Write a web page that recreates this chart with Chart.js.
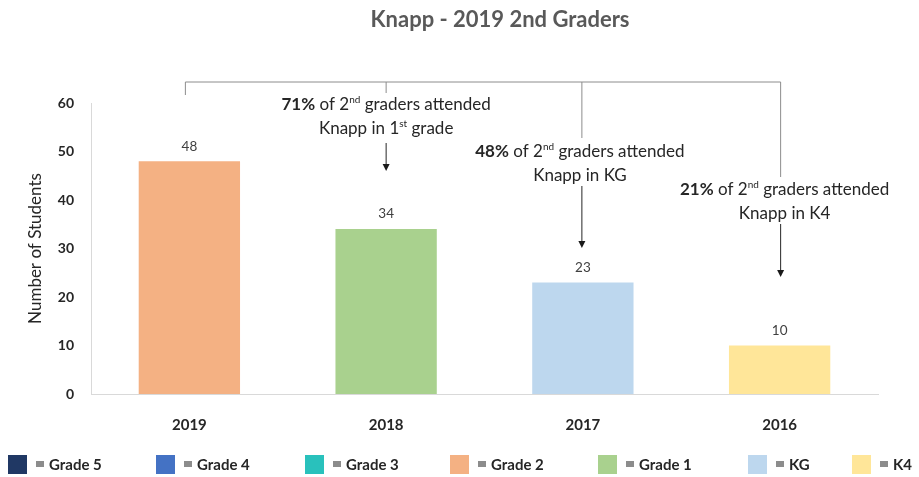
<!DOCTYPE html>
<html><head><meta charset="utf-8">
<script src="https://cdn.jsdelivr.net/npm/chart.js@4.4.0/dist/chart.umd.min.js"></script>
<style>html,body{margin:0;padding:0;background:#fff}#wrap{width:919px;height:477px;position:relative}</style>
</head><body><div id="wrap"><canvas id="c" width="919" height="477"></canvas></div>
<script>
// ---- data ----
const chartTitle = 'Knapp - 2019 2nd Graders';
const categories = ['2019', '2018', '2017', '2016'];
const students = [48, 34, 23, 10];
const barSeries = ['Grade 2', 'Grade 1', 'KG', 'K4'];
const seriesNames = ['Grade 5', 'Grade 4', 'Grade 3', 'Grade 2', 'Grade 1', 'KG', 'K4'];
const seriesColors = ['#203864', '#4472C4', '#29C1BC', '#F4B183', '#A9D18E', '#BDD7EE', '#FFE699'];
const yTickMin = 0, yTickMax = 60, yTickStep = 10;
const yAxisTitle = 'Number of Students';
const notePct = ['71%', '48%', '21%'];          // for categories 2018, 2017, 2016
const noteWhen = [['1', 'st', ' grade'], ['KG', '', ''], ['K4', '', '']];

// ---- build datasets ----
const datasets = seriesNames.map((name, si) => ({
  label: name,
  data: categories.map((c, ci) => barSeries[ci] === name ? students[ci] : null),
  backgroundColor: seriesColors[si],
  borderWidth: 0,
  barPercentage: 0.515,
  categoryPercentage: 1.0,
  stack: 's'
}));

const FONT = 'Lato, "Open Sans", sans-serif';

function drawSegs(ctx, segs, cx, cy, size) {
  let total = 0;
  const ms = segs.map(s => {
    const fs = s.sup ? Math.round(size * 0.6) : size;
    ctx.font = (s.bold ? 'bold ' : '') + fs + 'px ' + FONT;
    const w = ctx.measureText(s.t).width;
    total += w;
    return { s, fs, w };
  });
  let x = cx - total / 2;
  ctx.textAlign = 'left';
  ctx.textBaseline = 'middle';
  ms.forEach(m => {
    ctx.font = (m.s.bold ? 'bold ' : '') + m.fs + 'px ' + FONT;
    ctx.fillText(m.s.t, x, m.s.sup ? cy - size * 0.3 : cy);
    x += m.w;
  });
}

function arrow(ctx, x, y1, y2) {
  ctx.beginPath(); ctx.moveTo(x, y1); ctx.lineTo(x, y2 - 6); ctx.stroke();
  ctx.beginPath(); ctx.moveTo(x - 3.5, y2 - 7); ctx.lineTo(x + 3.5, y2 - 7); ctx.lineTo(x, y2); ctx.closePath(); ctx.fill();
}

const extras = {
  id: 'extras',
  afterDraw(chart) {
    const ctx = chart.ctx;
    const xs = chart.scales.x, ys = chart.scales.y;
    const ca = chart.chartArea;
    ctx.save();
    // title
    ctx.fillStyle = '#595959';
    ctx.font = 'bold 22px ' + FONT;
    ctx.textAlign = 'center'; ctx.textBaseline = 'middle';
    ctx.fillText(chartTitle, 500, 20);

    // value labels
    ctx.fillStyle = '#404040';
    ctx.font = '13.5px ' + FONT;
    students.forEach((v, i) => {
      ctx.fillText(String(v), xs.getPixelForValue(i), ys.getPixelForValue(v) - 15);
    });

    // bracket
    const cxs = categories.map((c, i) => xs.getPixelForValue(i));
    const by = ca.top - 21;
    ctx.strokeStyle = '#8c8c8c'; ctx.lineWidth = 1;
    ctx.beginPath();
    ctx.moveTo(cxs[0] - 4, ca.top - 8); ctx.lineTo(cxs[0] - 4, by);
    ctx.lineTo(cxs[3] + 1, by); ctx.lineTo(cxs[3] + 1, ca.top + 74);
    ctx.moveTo(cxs[1], by); ctx.lineTo(cxs[1], ca.top - 10);
    ctx.moveTo(cxs[2] - 1, by); ctx.lineTo(cxs[2] - 1, ca.top + 35);
    ctx.stroke();

    // notes
    const noteX = [cxs[1], cxs[2] - 3, cxs[3] + 5];
    const noteY = [ca.top + 2, ca.top + 49, ca.top + 87];
    const arrowX = [cxs[1], cxs[2] - 1, cxs[3] + 1];
    const arrowY = [[ca.top + 40, ca.top + 68], [ca.top + 83, ca.top + 145], [ca.top + 121, ca.top + 174]];
    ctx.fillStyle = '#262626';
    notePct.forEach((p, i) => {
      drawSegs(ctx, [{ t: p, bold: true }, { t: ' of 2' }, { t: 'nd', sup: true }, { t: ' graders attended' }], noteX[i], noteY[i], 17);
      const w = noteWhen[i];
      drawSegs(ctx, [{ t: 'Knapp in ' + w[0] }, { t: w[1], sup: true }, { t: w[2] }], noteX[i], noteY[i] + 24, 17);
    });
    ctx.strokeStyle = '#262626'; ctx.fillStyle = '#1a1a1a';
    arrowX.forEach((x, i) => arrow(ctx, x, arrowY[i][0], arrowY[i][1]));

    // legend
    const legX = [8, 156, 305, 450, 598, 748, 852];
    const ly = 464;
    seriesNames.forEach((n, i) => {
      const x = legX[i];
      ctx.fillStyle = seriesColors[i];
      ctx.fillRect(x, ly - 9, 19, 19);
      ctx.fillStyle = '#8c8c8c';
      ctx.fillRect(x + 28, ly - 3, 8, 6);
      ctx.fillStyle = '#262626';
      ctx.font = 'bold 15px ' + FONT;
      ctx.textAlign = 'left'; ctx.textBaseline = 'middle';
      ctx.fillText(n, x + 41, ly + 1);
    });
    ctx.restore();
  }
};

new Chart(document.getElementById('c'), {
  type: 'bar',
  data: { labels: categories, datasets },
  options: {
    responsive: false,
    animation: false,
    layout: { padding: { top: 103, right: 41, left: 0, bottom: 0 } },
    plugins: { legend: { display: false }, tooltip: { enabled: false }, title: { display: false } },
    scales: {
      x: {
        stacked: true,
        grid: { display: false },
        border: { color: '#d9d9d9' },
        ticks: { font: { family: FONT, size: 15, weight: 'bold' }, color: '#262626', padding: 14 },
        afterFit: s => { s.height = 83; }
      },
      y: {
        stacked: true,
        min: yTickMin, max: yTickMax,
        grid: { display: false },
        border: { color: '#d9d9d9' },
        ticks: { stepSize: yTickStep, font: { family: FONT, size: 14, weight: 'bold' }, color: '#262626', padding: 9 },
        title: { display: true, text: yAxisTitle, font: { family: FONT, size: 17 }, color: '#262626', padding: { top: 25, bottom: 0 } },
        afterFit: s => { s.width = 91; }
      }
    }
  },
  plugins: [extras]
});
</script></body></html>
